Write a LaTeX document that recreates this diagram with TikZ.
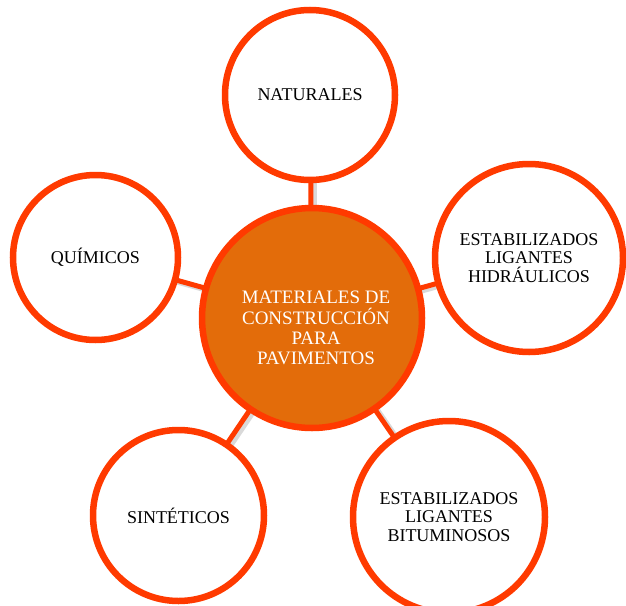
\documentclass[tikz,border=0pt]{standalone}
\usepackage{fontspec}
\setmainfont{Liberation Serif}
\definecolor{ringred}{RGB}{255,58,0}
\definecolor{hubfill}{RGB}{227,108,10}
\tikzset{
  outer/.style={circle, draw=ringred, line width=6.5pt, fill=white, align=center, inner sep=0pt, font=\fontsize{18}{18.5}\selectfont, text=black},
  hub/.style={circle, draw=ringred, line width=6.5pt, fill=hubfill, align=center, inner sep=0pt},
  hubtext/.style={font=\fontsize{19}{20.3}\selectfont, text=white, align=center},
  link/.style={draw=ringred, line width=5pt},
  linkshadow/.style={draw=black!25, line width=6pt, opacity=0.6}
}
\begin{document}
\begin{tikzpicture}[x=1pt,y=-1pt]
\useasboundingbox (0,0) rectangle (626,605);
\clip (0,0) rectangle (626,605);
\coordinate (pc) at (312,318);
\coordinate (pn) at (310,95);
\coordinate (ph) at (529,258);
\coordinate (pq) at (95.5,257.5);
\coordinate (ps) at (178.5,515.5);
\coordinate (pb) at (449,517);
% shadows of connectors
\foreach \p in {pn,ph,pq,ps,pb}{
  \draw[linkshadow] ([xshift=3pt,yshift=-2pt]pc) -- ([xshift=3pt,yshift=-2pt]\p);
}
\foreach \p in {pn,ph,pq,ps,pb}{
  \draw[link] (pc) -- (\p);
}
\node[outer, minimum size=170pt] (nat) at (pn) {NATURALES};
\node[outer, minimum size=188pt] (hid) at (ph) {ESTABILIZADOS\\LIGANTES\\HIDRÁULICOS};
\node[outer, minimum size=165pt] (qui) at (pq) {QUÍMICOS};
\node[outer, minimum size=171pt] (sin) at (ps) {SINTÉTICOS};
\node[outer, minimum size=192pt] (bit) at (pb) {ESTABILIZADOS\\LIGANTES\\BITUMINOSOS};
\node[hub, minimum size=220pt] (hubn) at (pc) {};
\node[hubtext] (hubt) at (316,328) {MATERIALES DE\\CONSTRUCCIÓN\\PARA\\PAVIMENTOS};
\end{tikzpicture}
\end{document}
